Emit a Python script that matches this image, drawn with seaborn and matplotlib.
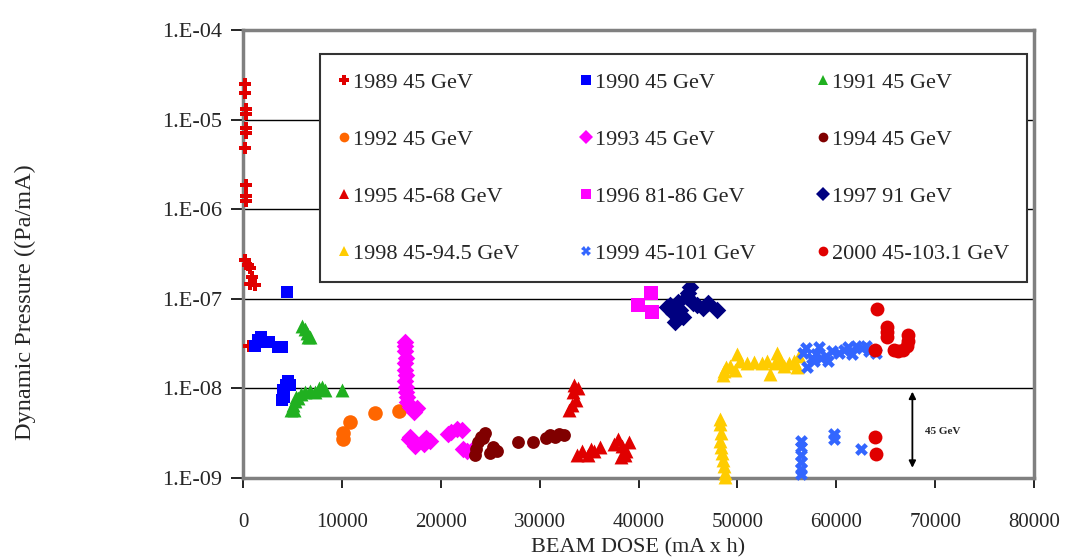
import numpy as np
import pandas as pd
import matplotlib
matplotlib.use("Agg")
import matplotlib.pyplot as plt
from matplotlib.lines import Line2D
from matplotlib.ticker import FuncFormatter, FixedLocator, NullLocator
import seaborn as sns

# ---------------- data ----------------
series_labels = ["1989 45 GeV", "1990 45 GeV", "1991 45 GeV", "1992 45 GeV",
                 "1993 45 GeV", "1994 45 GeV", "1995 45-68 GeV", "1996 81-86 GeV",
                 "1997 91 GeV", "1998 45-94.5 GeV", "1999 45-101 GeV", "2000 45-103.1 GeV"]

x_1989 = [250, 250, 300, 300, 300, 300, 250, 300, 300, 300, 250, 500, 700, 900, 700, 1200, 600]
y_1989 = [2.5e-5, 2.0e-5, 1.3e-5, 1.15e-5, 8.0e-6, 7.0e-6, 4.8e-6, 1.85e-6, 1.4e-6, 1.25e-6,
          2.7e-7, 2.4e-7, 2.2e-7, 1.75e-7, 1.45e-7, 1.42e-7, 3.0e-8]

x_1990 = [1200, 1500, 1800, 2200, 2600, 3500, 3900, 4400, 4000, 4300, 4600, 4800, 3900, 4100]
y_1990 = [3.0e-8, 3.5e-8, 3.7e-8, 3.3e-8, 3.3e-8, 2.9e-8, 2.9e-8, 1.2e-7, 9.5e-9, 1.1e-8,
          1.2e-8, 1.1e-8, 7.5e-9, 8.0e-9]

x_1991 = [6000, 6300, 6500, 6600, 6800, 4900, 5200, 5100, 5300, 5600, 5900, 6300, 6800, 7300,
          7700, 8000, 8300, 10000, 5400]
y_1991 = [5.0e-8, 4.6e-8, 4.1e-8, 3.7e-8, 3.7e-8, 5.7e-9, 5.8e-9, 6.5e-9, 7.2e-9, 7.8e-9,
          8.6e-9, 9.0e-9, 9.3e-9, 9.0e-9, 1.0e-8, 1.05e-8, 9.5e-9, 9.5e-9, 8.0e-9]

x_1992 = [10100, 10100, 10800, 13300, 15800]
y_1992 = [3.2e-9, 2.7e-9, 4.2e-9, 5.3e-9, 5.6e-9]

x_1993 = [16400, 16400, 16400, 16500, 16400, 16400, 16500, 16400, 16500, 16500, 16600, 16600,
          16900, 17300, 17600, 16900, 17200, 16800, 17400, 18500, 18900, 18300, 21000, 21600,
          22100, 20700, 22200, 22700, 23300]
y_1993 = [3.3e-8, 3.0e-8, 2.6e-8, 2.2e-8, 1.9e-8, 1.6e-8, 1.4e-8, 1.2e-8, 1.05e-8, 9.0e-9,
          8.0e-9, 7.0e-9, 6.2e-9, 5.5e-9, 6.0e-9, 2.9e-9, 2.5e-9, 2.7e-9, 2.3e-9, 2.8e-9,
          2.6e-9, 2.4e-9, 3.3e-9, 3.5e-9, 3.4e-9, 3.1e-9, 2.1e-9, 2.0e-9, 2.1e-9]

x_1994 = [23500, 23600, 23800, 24100, 24500, 24300, 25000, 25400, 25700, 25300, 27800, 29300,
          30600, 31000, 32000, 32500, 31600]
y_1994 = [1.8e-9, 2.1e-9, 2.5e-9, 2.9e-9, 3.2e-9, 2.8e-9, 1.9e-9, 2.1e-9, 2.0e-9, 2.2e-9,
          2.5e-9, 2.5e-9, 2.8e-9, 3.0e-9, 3.1e-9, 3.0e-9, 2.9e-9]

x_1995 = [33000, 33300, 33700, 33400, 33500, 33900, 33800, 34300, 34900, 35500, 36100, 35200,
          37500, 37900, 38300, 38700, 38600, 39000, 38200]
y_1995 = [5.8e-9, 6.5e-9, 7.4e-9, 9.0e-9, 1.1e-8, 1.0e-8, 1.8e-9, 2.0e-9, 1.8e-9, 2.0e-9,
          2.2e-9, 2.1e-9, 2.4e-9, 2.7e-9, 2.3e-9, 2.0e-9, 1.8e-9, 2.5e-9, 1.7e-9]

x_1996 = [39900, 41300, 41400]
y_1996 = [8.5e-8, 1.15e-7, 7.2e-8]

x_1997 = [42900, 43200, 43500, 43700, 44000, 44500, 44900, 45200, 45900, 46500, 47000, 47900,
          44200, 43800, 45500, 45000]
y_1997 = [8.0e-8, 8.5e-8, 6.9e-8, 5.5e-8, 9.2e-8, 6.3e-8, 1.04e-7, 1.35e-7, 8.5e-8, 7.9e-8,
          8.9e-8, 7.5e-8, 7.5e-8, 8.0e-8, 9.0e-8, 1.15e-7]

x_1998 = [48500, 48600, 48800, 49300, 50000, 50300, 49800, 51000, 51700, 52500, 53000, 53300,
          54000, 54300, 54700, 55200, 55700, 56200, 56000, 53800,
          48200, 48200, 48300, 48200, 48300, 48400, 48500, 48600, 48700, 48700]
y_1998 = [1.4e-8, 1.55e-8, 1.75e-8, 1.8e-8, 2.4e-8, 2.0e-8, 1.6e-8, 1.9e-8, 1.95e-8, 1.9e-8,
          2.0e-8, 1.45e-8, 2.5e-8, 2.1e-8, 1.8e-8, 1.9e-8, 2.0e-8, 2.3e-8, 1.75e-8, 1.9e-8,
          4.6e-9, 4.0e-9, 3.2e-9, 2.6e-9, 2.2e-9, 1.9e-9, 1.6e-9, 1.35e-9, 1.15e-9, 1.02e-9]

x_1999 = [56600, 57000, 56900, 57500, 58000, 58500, 59000, 59600, 60300, 60800, 61200, 62000,
          62600, 63300, 64000, 57800, 59200, 61600, 63000, 58300,
          56400, 56400, 56400, 56400, 56400, 56400, 59800, 59800, 62500]
y_1999 = [2.5e-8, 1.75e-8, 2.8e-8, 2.2e-8, 2.4e-8, 2.2e-8, 2.3e-8, 2.6e-8, 2.5e-8, 2.7e-8,
          2.9e-8, 3.0e-8, 2.8e-8, 2.6e-8, 2.5e-8, 2.0e-8, 2.0e-8, 2.4e-8, 3.0e-8, 2.9e-8,
          2.6e-9, 2.2e-9, 1.8e-9, 1.5e-9, 1.25e-9, 1.1e-9, 3.1e-9, 2.7e-9, 2.1e-9]

x_2000 = [64100, 63900, 65100, 65100, 65100, 67300, 67300, 67200, 66800, 66200, 65800, 63900, 64000]
y_2000 = [7.7e-8, 2.7e-8, 4.9e-8, 4.3e-8, 3.7e-8, 3.9e-8, 3.4e-8, 3.0e-8, 2.7e-8, 2.6e-8,
          2.7e-8, 2.9e-9, 1.85e-9]

x_ticks = [0, 10000, 20000, 30000, 40000, 50000, 60000, 70000, 80000]
y_ticks = [1e-9, 1e-8, 1e-7, 1e-6, 1e-5, 1e-4]
annot_text = "45 GeV"

# ---------------- styling ----------------
colors = ["#E00000", "#0000FF", "#20B020", "#FF6600", "#FF00FF", "#800000",
          "#E00000", "#FF00FF", "#000080", "#FFCC00", "#3366FF", "#E00000"]
markers = ["P", "s", "^", "o", "D", "o", "^", "s", "D", "^", "X", "o"]
sizes = [80, 85, 100, 110, 80, 85, 100, 110, 80, 100, 85, 100]

xs = [x_1989, x_1990, x_1991, x_1992, x_1993, x_1994, x_1995, x_1996, x_1997, x_1998, x_1999, x_2000]
ys = [y_1989, y_1990, y_1991, y_1992, y_1993, y_1994, y_1995, y_1996, y_1997, y_1998, y_1999, y_2000]

frames = []
for lab, xv, yv in zip(series_labels, xs, ys):
    frames.append(pd.DataFrame({"dose": xv, "pressure": yv, "series": lab}))
df = pd.concat(frames, ignore_index=True)

sns.set_style("white")
plt.rcParams["font.family"] = ["Liberation Serif", "DejaVu Serif"]

fig = plt.figure(figsize=(10.67, 5.59), dpi=100)
ax = fig.add_axes([243 / 1067, 1 - 478 / 559, (1034 - 243) / 1067, (478 - 30) / 559])

for i, lab in enumerate(series_labels):
    sub = df[df["series"] == lab]
    sns.scatterplot(data=sub, x="dose", y="pressure", ax=ax, color=colors[i],
                    marker=markers[i], s=sizes[i], linewidth=0, legend=False,
                    zorder=3 + i * 0.01, clip_on=False)

ax.set_yscale("log")
ax.set_xlim(0, 80000)
ax.set_ylim(1e-9, 1e-4)
ax.xaxis.set_major_locator(FixedLocator(x_ticks))
ax.yaxis.set_major_locator(FixedLocator(y_ticks))
ax.yaxis.set_minor_locator(NullLocator())
ax.yaxis.set_major_formatter(FuncFormatter(lambda v, p: "1.E-%02d" % int(round(-np.log10(v)))))
ax.xaxis.set_major_formatter(FuncFormatter(lambda v, p: "%d" % int(v)))

for yv in y_ticks[1:-1]:
    ax.axhline(yv, color="black", lw=1.0, zorder=1)

for side in ["left", "right", "top", "bottom"]:
    ax.spines[side].set_color("#808080")
    ax.spines[side].set_linewidth(2.5)
    ax.spines[side].set_visible(True)

ax.tick_params(axis="y", which="major", direction="out", length=9, width=1.2, color="black",
               left=True, labelsize=16, pad=6)
ax.tick_params(axis="x", which="major", direction="out", length=7, width=1.2, color="black",
               bottom=True, labelsize=15, pad=18)

ax.set_xlabel("BEAM DOSE (mA x h)", fontsize=16)
ax.set_ylabel("Dynamic Pressure ((Pa/mA)", fontsize=17.5)
ax.xaxis.set_label_coords(0.5, -0.135)
ax.yaxis.set_label_coords(-0.262, 0.393)

# 45 GeV arrow annotation
ax.annotate("", xy=(67700, 1.3e-9), xytext=(67700, 9.2e-9),
            arrowprops=dict(arrowstyle="<|-|>", color="black", lw=1.3,
                            mutation_scale=10, shrinkA=0, shrinkB=0))
ax.text(69000, 3.3e-9, annot_text, fontsize=8, fontweight="bold", va="center", ha="left")

# legend: row-major order (3 columns)
handles = [Line2D([], [], linestyle="none", marker=markers[i], color=colors[i],
                  markersize=7, markeredgewidth=0) for i in range(12)]
order = [0, 3, 6, 9, 1, 4, 7, 10, 2, 5, 8, 11]
leg = ax.legend([handles[i] for i in order], [series_labels[i] for i in order],
                ncol=3, loc="lower left", mode="expand", borderaxespad=0,
                bbox_to_anchor=(0.097, 0.4375, 0.894, 0.5115),
                fontsize=16, frameon=True, fancybox=False, framealpha=1,
                edgecolor="#333333", handlelength=0.6, handletextpad=0.1,
                labelspacing=1.65, borderpad=0.8, columnspacing=1.0)
leg.get_frame().set_linewidth(1.5)
leg.set_zorder(10)

fig.savefig("out.png", dpi=100)
